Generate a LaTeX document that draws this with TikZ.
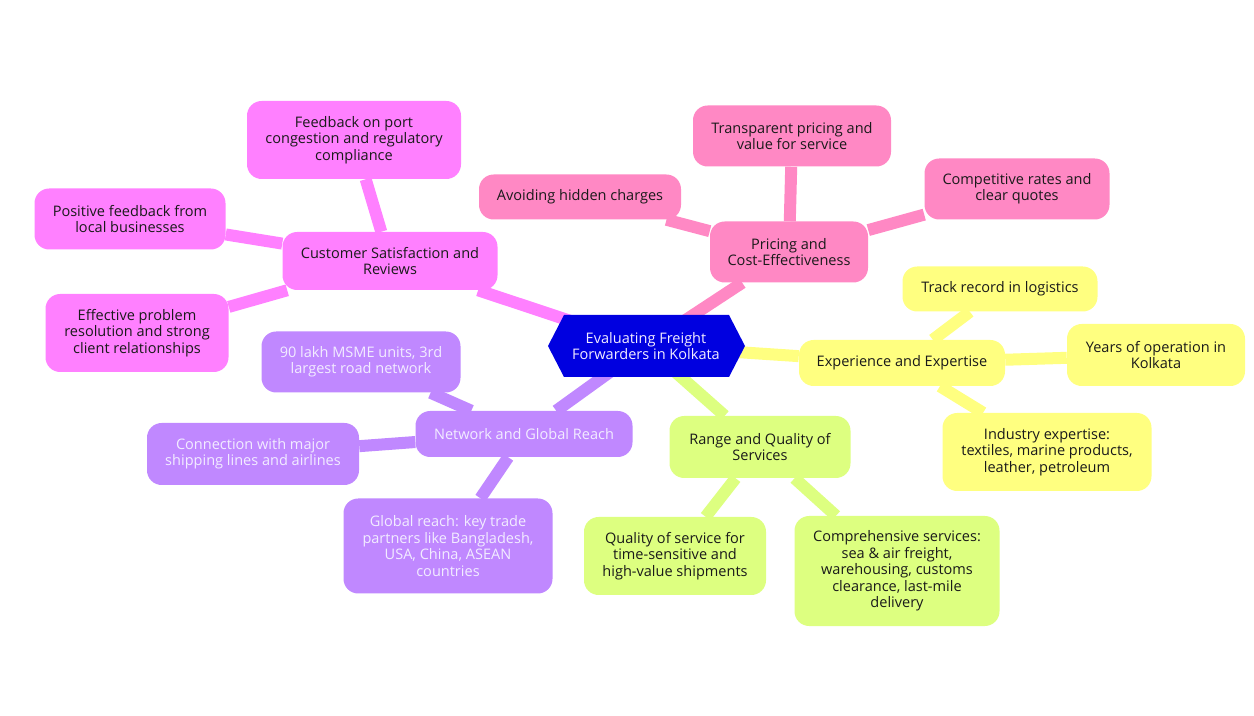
\documentclass[tikz,border=0pt]{standalone}
\usepackage{fontspec}
\setmainfont{Open Sans}
\usetikzlibrary{backgrounds,calc}
\definecolor{cmag}{HTML}{FF80FF}
\definecolor{cpink}{HTML}{FF88C4}
\definecolor{cyel}{HTML}{FFFF80}
\definecolor{clime}{HTML}{DDFF80}
\definecolor{cpur}{HTML}{C088FF}
\definecolor{cblue}{HTML}{0000E0}
\definecolor{ctext}{HTML}{1A1A1A}
\definecolor{clight}{HTML}{F2ECFF}
\tikzset{
  leaf/.style={rounded corners=11pt, align=center, inner sep=2pt,
    font=\fontsize{10.9}{12.3}\selectfont, text=ctext},
  magbox/.style={leaf, fill=cmag},
  pinkbox/.style={leaf, fill=cpink},
  yelbox/.style={leaf, fill=cyel},
  limebox/.style={leaf, fill=clime},
  purbox/.style={leaf, fill=cpur, text=clight},
  link/.style={line width=9pt},
}
\newcommand\mnode[7]{\node[#1, minimum width=#5*0.75pt, minimum height=#6*0.75pt] (#2) at (#3,#4) {#7};}
\begin{document}
\begin{tikzpicture}[x=0.75pt,y=-0.75pt]
\useasboundingbox (0,0) rectangle (1254,716);
% centre
\fill[cblue] (548,346) -- (564,315) -- (729,315) -- (745,346) -- (729,377) -- (564,377) -- cycle;
\node[align=center, text=clight, font=\fontsize{10.9}{12.3}\selectfont] (c) at (646,346) {Evaluating Freight\\Forwarders in Kolkata};
% customer branch
\mnode{magbox}{cs}{390}{261}{215}{58}{Customer Satisfaction and\\Reviews}
\mnode{magbox}{fb}{354}{140}{214}{78}{Feedback on port\\congestion and regulatory\\compliance}
\mnode{magbox}{pf}{130}{219}{191}{61}{Positive feedback from\\local businesses}
\mnode{magbox}{ep}{137}{333}{183}{78}{Effective problem\\resolution and strong\\client relationships}
% pricing branch
\mnode{pinkbox}{pr}{789}{252}{158}{61}{Pricing and\\Cost-Effectiveness}
\mnode{pinkbox}{tp}{792}{136}{198}{61}{Transparent pricing and\\value for service}
\mnode{pinkbox}{ah}{580}{197}{202}{45}{Avoiding hidden charges}
\mnode{pinkbox}{cr}{1017}{189}{185}{61}{Competitive rates and\\clear quotes}
% experience branch
\mnode{yelbox}{ex}{902}{363}{206}{46}{Experience and Expertise}
\mnode{yelbox}{tr}{1000}{289}{195}{45}{Track record in logistics}
\mnode{yelbox}{yo}{1156}{355}{178}{62}{Years of operation in\\Kolkata}
\mnode{yelbox}{ie}{1047}{452}{209}{78}{Industry expertise:\\textiles, marine products,\\leather, petroleum}
% range branch
\mnode{limebox}{rq}{760}{447}{181}{62}{Range and Quality of\\Services}
\mnode{limebox}{qs}{675}{556}{182}{78}{Quality of service for\\time-sensitive and\\high-value shipments}
\mnode{limebox}{co}{897}{571}{205}{110}{Comprehensive services:\\sea \& air freight,\\warehousing, customs\\clearance, last-mile\\delivery}
% network branch
\mnode{purbox}{nw}{524}{434}{217}{46}{Network and Global Reach}
\mnode{purbox}{ml}{361}{362}{199}{61}{90 lakh MSME units, 3rd\\largest road network}
\mnode{purbox}{cn}{253}{454}{212}{62}{Connection with major\\shipping lines and airlines}
\mnode{purbox}{gr}{448}{546}{209}{95}{Global reach: key trade\\partners like Bangladesh,\\USA, China, ASEAN\\countries}
\begin{pgfonlayer}{background}
\fill[white] (0,0) rectangle (1254,716);
\draw[link, cmag] (c) -- (cs);
\draw[link, cmag] (cs) -- (fb);
\draw[link, cmag] (cs) -- (pf);
\draw[link, cmag] (cs) -- (ep);
\draw[link, cpink] (c) -- (pr);
\draw[link, cpink] (pr) -- (tp);
\draw[link, cpink] (pr) -- (ah);
\draw[link, cpink] (pr) -- (cr);
\draw[link, cyel] (c) -- (ex);
\draw[link, cyel] (ex) -- (tr);
\draw[link, cyel] (ex) -- (yo);
\draw[link, cyel] (ex) -- (ie);
\draw[link, clime] (c) -- (rq);
\draw[link, clime] (rq) -- (qs);
\draw[link, clime] (rq) -- (co);
\draw[link, cpur] (c) -- (nw);
\draw[link, cpur] (nw) -- (ml);
\draw[link, cpur] (nw) -- (cn);
\draw[link, cpur] (nw) -- (gr);
\end{pgfonlayer}
\end{tikzpicture}
\end{document}
